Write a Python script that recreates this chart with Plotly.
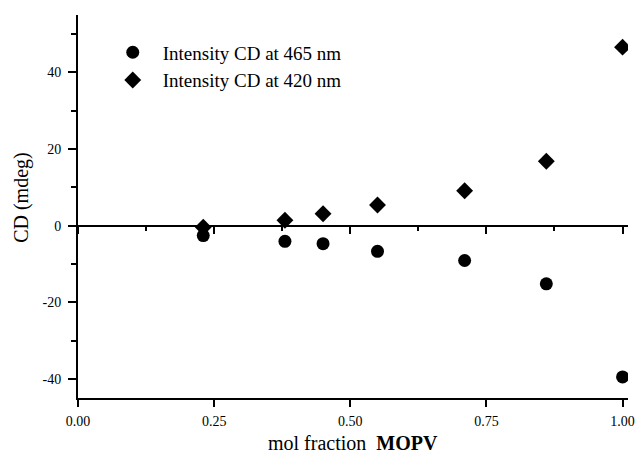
import plotly.graph_objects as go

mol_fraction = [0.23, 0.38, 0.45, 0.55, 0.71, 0.86, 1.00]
cd_465 = [-2.6, -4.1, -4.7, -6.7, -9.1, -15.2, -39.5]
cd_420 = [-0.4, 1.4, 3.1, 5.4, 9.1, 16.8, 46.6]

x_ticks = [0, 0.25, 0.5, 0.75, 1.0]
x_ticklabels = ["0.00", "0.25", "0.50", "0.75", "1.00"]
y_ticks = [-40, -20, 0, 20, 40]
y_ticklabels = ["-40", "-20", "0", "20", "40"]

serif = "Liberation Serif, Times New Roman, serif"

fig = go.Figure()
fig.add_trace(go.Scatter(
    x=mol_fraction, y=cd_465, mode="markers",
    name="Intensity CD at 465 nm",
    marker=dict(symbol="circle", size=13, color="black", line=dict(width=0)),
))
fig.add_trace(go.Scatter(
    x=mol_fraction, y=cd_420, mode="markers",
    name="Intensity CD at 420 nm",
    marker=dict(symbol="diamond", size=13, color="black", line=dict(width=0)),
))
# invisible trace to carry the tick-bearing zero axis
fig.add_trace(go.Scatter(x=[None], y=[None], xaxis="x2", showlegend=False))

fig.update_layout(
    width=636, height=462,
    margin=dict(l=78, r=8, t=15, b=63.5),
    paper_bgcolor="white", plot_bgcolor="white",
    font=dict(family=serif, color="black", size=14),
    showlegend=True,
    legend=dict(
        x=0.045, y=0.952, xanchor="left", yanchor="top",
        bgcolor="rgba(0,0,0,0)", borderwidth=0,
        font=dict(family=serif, size=19, color="black"),
        itemwidth=50, tracegroupgap=0,
    ),
    xaxis=dict(
        range=[0, 1.01], showgrid=False, zeroline=False, automargin=False,
        showline=True, linecolor="black", linewidth=2,
        tickmode="array", tickvals=x_ticks, ticktext=x_ticklabels,
        ticks="outside", ticklen=7, tickwidth=2, tickcolor="black",
        ticklabelstandoff=2,
        tickfont=dict(family=serif, size=14, color="black"),
    ),
    xaxis2=dict(
        range=[0, 1.01], overlaying="x", anchor="free", position=0.45,
        side="bottom", showgrid=False, zeroline=False, automargin=False,
        showline=True, linecolor="black", linewidth=2,
        tickmode="array", tickvals=x_ticks, showticklabels=False,
        ticks="outside", ticklen=7, tickwidth=2, tickcolor="black",
        minor=dict(dtick=0.125, tick0=0, ticks="outside", ticklen=4,
                   tickwidth=1.5, tickcolor="black", showgrid=False),
    ),
    yaxis=dict(
        range=[-45, 55], showgrid=False, zeroline=False, automargin=False,
        showline=True, linecolor="black", linewidth=2,
        tickmode="array", tickvals=y_ticks, ticktext=y_ticklabels,
        ticks="outside", ticklen=8, tickwidth=2, tickcolor="black",
        ticklabelstandoff=4,
        minor=dict(dtick=10, tick0=0, ticks="outside", ticklen=5,
                   tickwidth=2, tickcolor="black", showgrid=False),
        tickfont=dict(family=serif, size=14, color="black"),
    ),
    annotations=[
        dict(text="CD (mdeg)", textangle=-90, xref="paper", yref="paper",
             x=-0.102, y=0.525, xanchor="center", yanchor="middle",
             showarrow=False, font=dict(family=serif, size=20, color="black")),
        dict(text="mol fraction  <b>MOPV</b>", xref="paper", yref="paper",
             x=0.5, y=-0.118, xanchor="center", yanchor="middle",
             showarrow=False, font=dict(family=serif, size=20, color="black")),
    ],
)

fig.write_html(
    "out.html",
    config={"displayModeBar": False},
    post_script="document.body.style.margin='0';document.body.style.padding='0';",
)
